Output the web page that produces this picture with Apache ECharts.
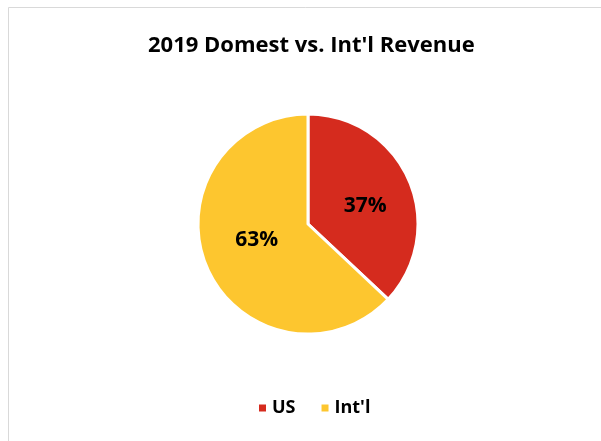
<!DOCTYPE html>
<html>
<head>
<meta charset="utf-8">
<script src="https://cdn.jsdelivr.net/npm/echarts@6/dist/echarts.min.js"></script>
<style>
  html, body { margin: 0; padding: 0; background: #fff; }
  #main { width: 601px; height: 441px; }
</style>
</head>
<body>
<div id="main"></div>
<script>
// data
var categories = ['US', "Int'l"];
var shares = [37, 63];
var sliceColors = ['#D52B1E', '#FDC62F'];
// nudge labels to sit where Excel puts them
var labelNudge = [[4, 5], [2, -7]];

var chart = echarts.init(document.getElementById('main'));

var pieData = [];
for (var i = 0; i < categories.length; i++) {
    pieData.push({
        name: categories[i],
        value: shares[i],
        itemStyle: { color: sliceColors[i] },
        label: { offset: labelNudge[i] }
    });
}

var option = {
    backgroundColor: '#fff',
    animation: false,
    title: {
        text: "2019 Domest vs. Int'l Revenue",
        left: 143,
        top: 30,
        textStyle: {
            fontFamily: 'Open Sans',
            fontWeight: 'bold',
            fontSize: 22,
            color: '#000'
        }
    },
    legend: {
        data: categories,
        bottom: 19,
        left: 252,
        icon: 'rect',
        itemWidth: 9,
        itemHeight: 9,
        itemGap: 24,
        textStyle: {
            fontFamily: 'Open Sans',
            fontWeight: 'bold',
            fontSize: 18,
            color: '#000'
        }
    },
    graphic: [{
        type: 'rect',
        shape: { x: 8.5, y: 7.5, width: 600, height: 440 },
        style: { fill: 'none', stroke: '#d9d9d9', lineWidth: 1 },
        silent: true
    }],
    series: [{
        type: 'pie',
        center: [308, 224],
        radius: 110,
        startAngle: 90,
        clockwise: true,
        label: {
            show: true,
            position: 'inside',
            formatter: '{d}%',
            fontFamily: 'Open Sans',
            fontWeight: 'bold',
            fontSize: 21,
            color: '#000'
        },
        labelLine: { show: false },
        itemStyle: { borderColor: '#fff', borderWidth: 3 },
        data: pieData
    }]
};
chart.setOption(option);
</script>
</body>
</html>
